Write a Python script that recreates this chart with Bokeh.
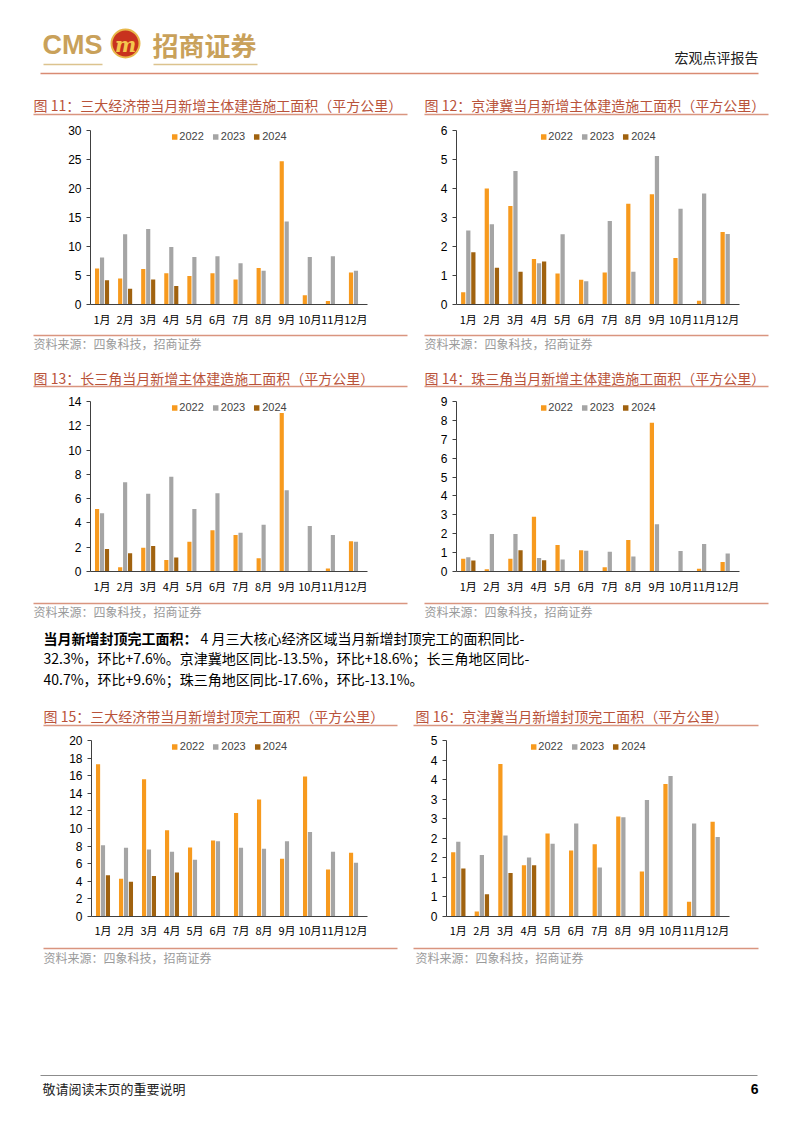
import numpy as np
from bokeh.plotting import figure
from bokeh.models import Range1d, FixedTicker, ColumnDataSource
from bokeh.layouts import column, row
from bokeh.transform import dodge
from bokeh.core.properties import value
from bokeh.embed import file_html
from bokeh.resources import INLINE

# ---------------- data ----------------
months = ["1月", "2月", "3月", "4月", "5月", "6月", "7月", "8月", "9月", "10月", "11月", "12月"]
years = ["2022", "2023", "2024"]

# 图11 三大经济带 新增主体建造施工面积
c11_2022 = [6.2, 4.5, 6.1, 5.4, 4.9, 5.4, 4.3, 6.3, 24.7, 1.6, 0.6, 5.5]
c11_2023 = [8.1, 12.1, 13.0, 9.9, 8.2, 8.3, 7.1, 5.8, 14.3, 8.2, 8.3, 5.8]
c11_2024 = [4.2, 2.7, 4.3, 3.2, None, None, None, None, None, None, None, None]
# 图12 京津冀
c12_2022 = [0.42, 4.0, 3.4, 1.57, 1.07, 0.85, 1.1, 3.47, 3.8, 1.6, 0.13, 2.5]
c12_2023 = [2.55, 2.77, 4.6, 1.42, 2.42, 0.8, 2.88, 1.13, 5.12, 3.3, 3.83, 2.43]
c12_2024 = [1.8, 1.27, 1.13, 1.48, None, None, None, None, None, None, None, None]
# 图13 长三角
c13_2022 = [5.15, 0.35, 1.95, 0.95, 2.45, 3.4, 3.0, 1.1, 13.05, 0.0, 0.25, 2.5]
c13_2023 = [4.8, 7.35, 6.4, 7.8, 5.15, 6.45, 3.2, 3.85, 6.7, 3.75, 3.0, 2.45]
c13_2024 = [1.85, 1.5, 2.1, 1.15, None, None, None, None, None, None, None, None]
# 图14 珠三角
c14_2022 = [0.68, 0.12, 0.68, 2.9, 1.4, 1.13, 0.22, 1.67, 7.88, 0.0, 0.15, 0.5]
c14_2023 = [0.75, 1.98, 1.98, 0.72, 0.63, 1.1, 1.05, 0.8, 2.5, 1.08, 1.45, 0.95]
c14_2024 = [0.58, None, 1.13, 0.6, None, None, None, None, None, None, None, None]
# 图15 三大经济带 新增封顶完工面积
c15_2022 = [17.3, 4.3, 15.6, 9.8, 7.85, 8.65, 11.75, 13.3, 6.55, 15.9, 5.35, 7.25]
c15_2023 = [8.1, 7.8, 7.6, 7.35, 6.45, 8.55, 7.8, 7.7, 8.55, 9.6, 7.35, 6.1]
c15_2024 = [4.7, 3.95, 4.6, 5.0, None, None, None, None, None, None, None, None]
# 图16 京津冀 新增封顶完工面积
c16_2022 = [1.64, 0.13, 3.9, 1.31, 2.12, 1.69, 1.85, 2.56, 1.15, 3.39, 0.38, 2.42]
c16_2023 = [1.91, 1.57, 2.07, 1.51, 1.86, 2.38, 1.25, 2.54, 2.98, 3.59, 2.38, 2.03]
c16_2024 = [1.23, 0.57, 1.11, 1.31, None, None, None, None, None, None, None, None]

ticks11 = [0, 5, 10, 15, 20, 25, 30]
ticks12 = [0, 1, 2, 3, 4, 5, 6]
ticks13 = [0, 2, 4, 6, 8, 10, 12, 14]
ticks14 = [0, 1, 2, 3, 4, 5, 6, 7, 8, 9]
ticks15 = [0, 2, 4, 6, 8, 10, 12, 14, 16, 18, 20]
ticks16 = [0, 0.5, 1.0, 1.5, 2.0, 2.5, 3.0, 3.5, 4.0, 4.5]
labels16 = ["0", "1", "1", "2", "2", "3", "3", "4", "4", "5"]

titles = {
    11: "图 11：三大经济带当月新增主体建造施工面积（平方公里）",
    12: "图 12：京津冀当月新增主体建造施工面积（平方公里）",
    13: "图 13：长三角当月新增主体建造施工面积（平方公里）",
    14: "图 14：珠三角当月新增主体建造施工面积（平方公里）",
    15: "图 15：三大经济带当月新增封顶完工面积（平方公里）",
    16: "图 16：京津冀当月新增封顶完工面积（平方公里）",
}
source_text = "资料来源：四象科技，招商证券"
para_bold = "当月新增封顶完工面积："
para_lines = [
    "4 月三大核心经济区域当月新增封顶完工的面积同比-",
    "32.3%，环比+7.6%。京津冀地区同比-13.5%，环比+18.6%；长三角地区同比-",
    "40.7%，环比+9.6%；珠三角地区同比-17.6%，环比-13.1%。",
]

# ---------------- styles ----------------
C22, C23, C24 = "#F79A1E", "#A5A5A5", "#A0620F"
AX = "#404040"
TITLE_C = "#B9533A"
RULE_C = "#D9957F"
SRC_C = "#9A9A9A"
GOLD = "#C9A15A"
CJK = "Noto Sans CJK SC"
LAT = "Liberation Sans"
PAGE_W = 794


def arr(v):
    return np.array([np.nan if x is None else x for x in v], dtype=float)


def chart(y22, y23, y24, ticks, w, h, bl, br, bt, bb, standoff=6, labels=None):
    p = figure(x_range=months, y_range=Range1d(0, ticks[-1]), width=w, height=h,
               output_backend="svg", toolbar_location=None,
               min_border_left=bl, min_border_right=br, min_border_top=bt, min_border_bottom=bb,
               outline_line_color=None, background_fill_color="white", border_fill_color="white")
    src = ColumnDataSource(dict(m=months, a=arr(y22), b=arr(y23), c=arr(y24)))
    for col, off, color, lab in (("a", -0.215, C22, years[0]), ("b", 0.0, C23, years[1]), ("c", 0.215, C24, years[2])):
        p.vbar(x=dodge("m", off, range=p.x_range), top=col, width=0.18, source=src,
               fill_color=color, line_color=None, legend_label=lab)
    p.xgrid.visible = False
    p.ygrid.visible = False
    ya = p.yaxis[0]
    ya.ticker = FixedTicker(ticks=ticks)
    if labels is not None:
        ya.major_label_overrides = {t: l for t, l in zip(ticks, labels)}
    ya.axis_line_color = AX
    ya.major_tick_line_color = AX
    ya.major_tick_out = 4
    ya.major_tick_in = 0
    ya.minor_tick_line_color = None
    ya.minor_tick_out = 0
    ya.minor_tick_in = 0
    ya.major_label_standoff = 5
    ya.major_label_text_font = LAT
    ya.major_label_text_font_size = "12px"
    ya.major_label_text_color = "#000000"
    xa = p.xaxis[0]
    xa.axis_line_color = AX
    xa.major_tick_line_color = None
    xa.major_tick_out = 0
    xa.major_tick_in = 0
    xa.minor_tick_line_color = None
    xa.minor_tick_out = 0
    xa.minor_tick_in = 0
    xa.major_label_standoff = standoff
    xa.major_label_text_font = CJK
    xa.major_label_text_font_size = "11px"
    xa.major_label_text_color = "#000000"
    lg = p.legend[0]
    lg.orientation = "horizontal"
    lg.location = "top_center"
    lg.border_line_color = None
    lg.background_fill_alpha = 0
    lg.glyph_width = 7
    lg.glyph_height = 7
    lg.label_standoff = 2
    lg.spacing = 8
    lg.padding = 0
    lg.margin = 0
    lg.label_height = 10
    lg.label_text_font = LAT
    lg.label_text_font_size = "11px"
    lg.label_text_baseline = "middle"
    return p


def deco(y0, y1):
    p = figure(width=PAGE_W, height=y1 - y0, x_range=Range1d(0, PAGE_W), y_range=Range1d(y1, y0),
               x_axis_type=None, y_axis_type=None, output_backend="svg", toolbar_location=None,
               min_border=0, outline_line_color=None, background_fill_color="white",
               border_fill_color="white")
    return p


def txt(p, x, y, s, size, color, font=CJK, align="left", style="normal"):
    p.text(x=[x], y=[y], text=[s], text_font=value(font), text_font_size=size,
           text_color=color, text_align=align, text_baseline="middle", text_font_style=style)


def rule(p, x0, x1, y, color=RULE_C, w=1.5):
    p.segment(x0=[x0], y0=[y], x1=[x1], y1=[y], line_color=color, line_width=w)


# ---------------- header (y 0..120) ----------------
hdr = deco(0, 120)
txt(hdr, 42, 44, "CMS", "27px", GOLD, font=LAT, style="bold")
hdr.circle(x=[125], y=[43], radius=14, fill_color="#C8321E", line_color="#E8B84A", line_width=2)
txt(hdr, 125, 44, "m", "20px", "#F4C64E", font="DejaVu Serif", align="center", style="bold italic")
txt(hdr, 152, 44, "招商证券", "26px", GOLD, style="bold")
rule(hdr, 43, 102, 64, color="#DCC38E", w=1.5)
rule(hdr, 153, 257, 64, color="#DCC38E", w=1.5)
txt(hdr, 758, 56, "宏观点评报告", "14px", "#222222", align="right")
rule(hdr, 40, 758, 73, color="#D98B73", w=1.5)
txt(hdr, 33, 104, titles[11], "14px", TITLE_C)
txt(hdr, 424, 104, titles[12], "14px", TITLE_C)
rule(hdr, 33, 407, 114)
rule(hdr, 424, 768, 114)

# ---------------- row 1 (y 120..330) ----------------
f11 = chart(c11_2022, c11_2023, c11_2024, ticks11, 415, 210, 90, 48, 10, 26)
f12 = chart(c12_2022, c12_2023, c12_2024, ticks12, 379, 210, 41, 55, 10, 26)

# ---------------- mid 1 (y 330..392) ----------------
m1 = deco(330, 392)
rule(m1, 33, 407, 335)
rule(m1, 424, 768, 335)
txt(m1, 33, 343, source_text, "12px", SRC_C)
txt(m1, 424, 343, source_text, "12px", SRC_C)
txt(m1, 33, 377, titles[13], "14px", TITLE_C)
txt(m1, 424, 377, titles[14], "14px", TITLE_C)
rule(m1, 33, 407, 386)
rule(m1, 424, 768, 386)

# ---------------- row 2 (y 392..596) ----------------
f13 = chart(c13_2022, c13_2023, c13_2024, ticks13, 415, 204, 90, 48, 9, 24)
f14 = chart(c14_2022, c14_2023, c14_2024, ticks14, 379, 204, 41, 55, 9, 24)

# ---------------- mid 2 (y 596..732) ----------------
m2 = deco(596, 732)
rule(m2, 33, 407, 603)
rule(m2, 424, 768, 603)
txt(m2, 33, 611, source_text, "12px", SRC_C)
txt(m2, 424, 611, source_text, "12px", SRC_C)
txt(m2, 43, 637, para_bold, "14px", "#000000", style="bold")
txt(m2, 200, 637, para_lines[0], "14px", "#000000")
txt(m2, 43, 657, para_lines[1], "14px", "#000000")
txt(m2, 43, 678, para_lines[2], "14px", "#000000")
txt(m2, 43, 715, titles[15], "14px", TITLE_C)
txt(m2, 415, 715, titles[16], "14px", TITLE_C)
rule(m2, 43, 397, 725)
rule(m2, 413, 758, 725)

# ---------------- row 3 (y 732..940) ----------------
f15 = chart(c15_2022, c15_2023, c15_2024, ticks15, 405, 208, 91, 38, 8, 21, standoff=5)
f16 = chart(c16_2022, c16_2023, c16_2024, ticks16, 389, 208, 41, 65, 8, 21, standoff=5, labels=labels16)

# ---------------- footer (y 940..1125) ----------------
ft = deco(940, 1125)
rule(ft, 43, 397, 948)
rule(ft, 413, 758, 948)
txt(ft, 43, 957, source_text, "12px", SRC_C)
txt(ft, 415, 957, source_text, "12px", SRC_C)
rule(ft, 40, 757, 1075, color="#8C8C8C", w=1)
txt(ft, 42, 1088, "敬请阅读末页的重要说明", "13px", "#222222")
txt(ft, 758, 1088, "6", "14px", "#000000", font=LAT, align="right", style="bold")

layout = column(
    hdr,
    row(f11, f12, spacing=0),
    m1,
    row(f13, f14, spacing=0),
    m2,
    row(f15, f16, spacing=0),
    ft,
    spacing=0,
)

open("out.html", "w").write(file_html(layout, INLINE))
